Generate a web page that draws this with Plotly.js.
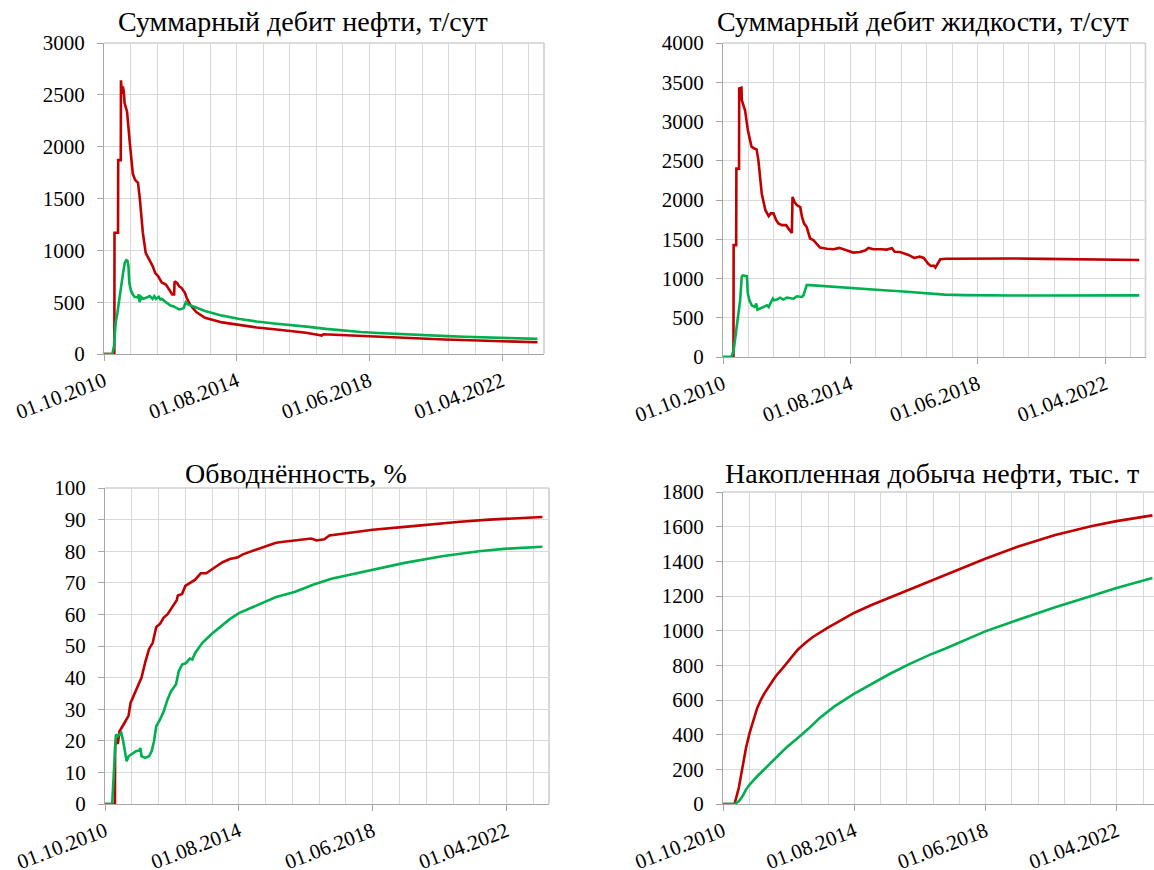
<!DOCTYPE html>
<html>
<head>
<meta charset="utf-8">
<script src="https://cdn.plot.ly/plotly-3.0.1.min.js"></script>
</head>
<body style="margin:0">
<div id="chart" style="width:1154px;height:870px"></div>
<script>
// ---- tick labels / titles ----
const tickDates = ['2010-10-01','2014-08-01','2018-06-01','2022-04-01'];
const tickLabels = ['01.10.2010','01.08.2014','01.06.2018','01.04.2022'];
const chartTitles = ['Суммарный дебит нефти, т/сут','Суммарный дебит жидкости, т/сут','Обводнённость, %','Накопленная добыча нефти, тыс. т'];

// ---- Chart 1: oil rate ----
const oilRedDates = ['2010-10-01','2011-01-18','2011-01-20','2011-02-26','2011-02-28','2011-03-27','2011-03-29','2011-04-08','2011-04-18','2011-04-28','2011-05-06','2011-06-01','2011-07-01','2011-08-01','2011-08-25','2011-09-25','2011-10-15','2011-11-15','2011-12-15','2012-01-20','2012-02-25','2012-03-25','2012-04-25','2012-06-01','2012-07-15','2012-08-20','2012-09-20','2012-10-10','2012-10-15','2012-11-10','2012-12-05','2012-12-25','2013-01-15','2013-02-01','2013-02-20','2013-03-10','2013-04-01','2013-06-01','2013-09-01','2014-03-01','2014-09-01','2015-03-01','2015-09-01','2016-03-01','2016-08-01','2016-12-01','2017-01-15','2017-02-01','2017-08-01','2018-02-01','2018-08-01','2019-02-01','2019-08-01','2020-02-01','2020-08-01','2021-02-01','2021-08-01','2022-02-01','2022-08-01','2023-02-01','2023-04-10'];
const oilRedValues = [0,0,1170,1170,1870,1870,2640,2510,2580,2530,2420,2340,2030,1740,1680,1650,1490,1170,975,910,850,780,750,690,670,620,575,575,700,685,650,640,605,590,540,500,470,405,350,305,278,256,238,222,205,185,178,190,182,174,166,159,152,146,140,135,130,125,120,115,113];
const oilGreenDates = ['2010-10-01','2010-12-28','2011-01-15','2011-02-01','2011-02-20','2011-03-10','2011-04-01','2011-04-20','2011-05-08','2011-05-25','2011-06-08','2011-06-16','2011-06-25','2011-07-10','2011-08-01','2011-08-20','2011-09-10','2011-09-25','2011-10-03','2011-10-12','2011-10-28','2011-11-18','2011-12-20','2012-01-28','2012-02-25','2012-03-15','2012-04-01','2012-05-01','2012-05-18','2012-06-01','2012-07-01','2012-08-01','2012-09-01','2012-10-01','2012-11-01','2012-12-01','2013-01-01','2013-01-20','2013-02-10','2013-03-01','2013-09-01','2014-03-01','2014-09-01','2015-03-01','2015-09-01','2016-03-01','2016-09-01','2017-03-01','2017-09-01','2018-03-01','2018-09-01','2019-03-01','2019-09-01','2020-03-01','2020-09-01','2021-03-01','2021-09-01','2022-03-01','2022-09-01','2023-04-10'];
const oilGreenValues = [0,0,80,300,400,525,655,780,880,905,895,845,690,620,575,550,550,542,575,500,550,532,542,558,532,558,532,551,526,532,510,487,468,462,446,430,436,446,500,480,415,370,338,313,295,280,262,242,226,212,202,193,185,178,172,166,160,155,151,146];

// ---- Chart 2: liquid rate ----
const liqRedDates = ['2010-10-01','2011-01-24','2011-01-26','2011-02-23','2011-02-25','2011-03-26','2011-03-28','2011-04-22','2011-04-26','2011-05-10','2011-06-01','2011-07-01','2011-08-10','2011-09-10','2011-10-05','2011-10-25','2011-12-01','2012-01-10','2012-02-15','2012-03-10','2012-04-08','2012-05-05','2012-06-01','2012-07-10','2012-08-25','2012-09-20','2012-10-27','2012-11-03','2012-11-25','2012-12-20','2013-01-27','2013-02-15','2013-03-10','2013-04-08','2013-05-15','2013-06-20','2013-07-27','2013-09-01','2013-11-15','2014-01-27','2014-04-01','2014-06-20','2014-09-01','2014-11-15','2015-01-15','2015-02-15','2015-04-10','2015-07-01','2015-09-01','2015-11-01','2015-12-01','2016-01-27','2016-03-15','2016-05-01','2016-07-01','2016-09-01','2016-10-15','2016-12-01','2017-01-01','2017-02-01','2017-02-20','2017-03-15','2017-04-15','2017-06-15','2018-06-01','2019-06-01','2020-06-01','2021-06-01','2022-06-01','2023-04-10'];
const liqRedValues = [0,0,1425,1425,2400,2400,3420,3430,3270,3210,3140,2890,2680,2655,2645,2505,2080,1870,1795,1830,1830,1750,1700,1680,1680,1635,1580,2040,1975,1935,1910,1785,1700,1655,1510,1490,1435,1395,1380,1372,1390,1360,1330,1338,1360,1390,1372,1372,1368,1385,1340,1338,1320,1300,1262,1278,1262,1190,1160,1165,1140,1190,1245,1252,1258,1255,1250,1245,1240,1235];
const liqGreenDates = ['2010-10-01','2011-01-01','2011-01-26','2011-03-01','2011-04-07','2011-04-25','2011-05-05','2011-06-20','2011-07-01','2011-07-18','2011-08-13','2011-09-12','2011-10-01','2011-10-15','2011-11-15','2011-12-20','2012-01-28','2012-02-15','2012-03-03','2012-04-01','2012-04-15','2012-05-15','2012-06-20','2012-07-25','2012-09-03','2012-10-10','2012-11-15','2012-12-20','2013-02-15','2013-03-03','2013-03-20','2013-04-08','2013-05-15','2014-01-27','2014-08-01','2015-01-27','2015-08-01','2016-01-27','2016-06-01','2016-11-01','2017-06-01','2018-01-01','2018-06-01','2019-06-01','2020-06-01','2021-06-01','2022-06-01','2023-04-10'];
const liqGreenValues = [0,0,85,380,720,1020,1040,1030,810,722,658,637,680,603,616,637,658,637,680,743,722,731,756,731,756,752,743,773,765,786,850,915,915,892,878,862,850,838,828,810,795,788,785,784,784,784,785,785];

// ---- Chart 3: water cut ----
const wcRedDates = ['2010-10-01','2011-01-13','2011-01-15','2011-02-01','2011-02-12','2011-03-01','2011-04-10','2011-05-15','2011-06-05','2011-06-25','2011-08-20','2011-10-18','2011-11-27','2012-01-04','2012-02-12','2012-03-20','2012-04-28','2012-06-06','2012-07-15','2012-09-12','2012-10-20','2012-11-01','2012-12-15','2013-01-18','2013-03-05','2013-05-01','2013-06-28','2013-08-25','2013-11-28','2014-02-12','2014-04-28','2014-07-15','2014-09-12','2014-12-18','2015-03-05','2015-06-10','2015-08-25','2015-11-12','2016-03-05','2016-05-20','2016-08-28','2016-10-22','2017-01-10','2017-03-05','2017-07-20','2018-01-10','2018-06-01','2019-05-01','2020-02-01','2020-12-01','2021-10-01','2022-04-01','2023-04-10'];
const wcRedValues = [0,0,18.2,22,19,23,25,27,28,32,36,40,45,49,51,56,57,59,60,63,64.5,66,66.5,69,70,71,73,73,75,76.5,77.5,78,79,80,81,82,82.7,83,83.3,83.5,84,83.4,83.8,85,85.5,86.3,86.8,87.7,88.5,89.3,90,90.3,90.8];
const wcGreenDates = ['2010-10-01','2010-12-15','2011-01-23','2011-02-10','2011-03-01','2011-03-20','2011-04-10','2011-05-15','2011-06-05','2011-07-12','2011-08-20','2011-09-22','2011-10-07','2011-10-18','2011-11-27','2012-01-04','2012-02-01','2012-02-25','2012-03-20','2012-04-28','2012-06-06','2012-07-15','2012-08-22','2012-10-12','2012-11-10','2012-12-15','2013-01-25','2013-03-05','2013-04-01','2013-05-01','2013-07-15','2013-10-20','2014-01-25','2014-04-28','2014-08-01','2015-02-15','2015-08-25','2016-03-05','2016-09-15','2017-03-25','2017-10-05','2018-06-01','2019-05-01','2020-05-25','2021-06-15','2022-04-01','2023-04-10'];
const wcGreenValues = [0,0,22,21.4,22,22.5,19.8,13.5,15.1,15.8,16.7,16.9,17.7,15.1,14.6,15.1,16.7,19.8,24.6,26.7,29.3,33,35.7,37.8,42,44.1,44.6,46,45.7,47.8,51,53.8,56.2,58.5,60.4,63.1,65.5,67.1,69.4,71.3,72.6,74.2,76.3,78.4,80,80.8,81.4];

// ---- Chart 4: cumulative oil ----
const cumRedDates = ['2010-10-01','2011-02-01','2011-03-18','2011-04-27','2011-06-03','2011-07-12','2011-08-21','2011-10-01','2011-11-10','2011-12-18','2012-02-15','2012-04-15','2012-07-01','2012-09-18','2012-12-06','2013-02-24','2013-05-12','2013-10-15','2014-03-20','2014-07-28','2015-02-01','2015-08-12','2016-02-27','2016-10-18','2017-05-01','2017-10-06','2018-05-28','2019-05-15','2020-06-12','2021-07-10','2022-03-28','2023-04-15'];
const cumRedValues = [0,0,92,208,323,410,487,554,602,640,688,737,785,837,890,929,962,1015,1062,1102,1148,1190,1232,1282,1328,1362,1415,1485,1552,1604,1632,1665];
const cumGreenDates = ['2010-10-01','2011-02-05','2011-03-18','2011-04-27','2011-06-03','2011-07-12','2011-10-01','2011-12-18','2012-04-15','2012-08-10','2012-12-06','2013-04-01','2013-07-28','2014-01-01','2014-07-28','2015-02-01','2015-08-12','2016-02-27','2016-10-18','2017-03-25','2017-10-06','2018-05-28','2019-05-15','2020-06-12','2021-07-10','2022-03-28','2023-04-15'];
const cumGreenValues = [0,0,15,44,83,112,160,202,265,327,381,435,496,563,635,692,750,804,862,896,940,996,1063,1135,1202,1246,1304];

// ---- styling ----
const FONT = 'Liberation Serif';
const GRID = '#d9d9d9';
const AXIS = '#a6a6a6';
const BORDER = '#cfcfcf';
const RED = '#c00000';
const GREEN = '#00b050';
const W = 1154, H = 870;

function line(x, y, color, xa, ya) {
  return {x: x, y: y, type: 'scatter', mode: 'lines', xaxis: xa, yaxis: ya,
    line: {color: color, width: 2.6}, hoverinfo: 'skip', showlegend: false};
}
const traces = [
  line(oilRedDates, oilRedValues, RED, 'x', 'y'),
  line(oilGreenDates, oilGreenValues, GREEN, 'x', 'y'),
  line(liqRedDates, liqRedValues, RED, 'x2', 'y2'),
  line(liqGreenDates, liqGreenValues, GREEN, 'x2', 'y2'),
  line(wcRedDates, wcRedValues, RED, 'x3', 'y3'),
  line(wcGreenDates, wcGreenValues, GREEN, 'x3', 'y3'),
  line(cumRedDates, cumRedValues, RED, 'x4', 'y4'),
  line(cumGreenDates, cumGreenValues, GREEN, 'x4', 'y4')
];

function xAxis(px0, px1, anchor, rangeEnd) {
  return {
    type: 'date', domain: [px0 / W, px1 / W], anchor: anchor,
    range: [tickDates[0], rangeEnd],
    tickmode: 'array', tickvals: tickDates, ticktext: tickLabels,
    tickangle: -21, ticks: 'outside', ticklen: 6, tickcolor: AXIS, tickwidth: 1,
    showline: true, linecolor: AXIS, linewidth: 1.2,
    showgrid: true, gridcolor: GRID, gridwidth: 1,
    minor: {tickmode: 'linear', tick0: tickDates[0], dtick: 280 * 86400000, showgrid: true, gridcolor: GRID, gridwidth: 1, ticks: ''},
    zeroline: false, fixedrange: true, ticklabelstandoff: 0,
    tickfont: {family: FONT, size: 21, color: '#000'}
  };
}
function yAxis(py0, py1, anchor, max, dtick) {
  return {
    domain: [1 - py1 / H, 1 - py0 / H], anchor: anchor,
    range: [0, max], tickmode: 'linear', tick0: 0, dtick: dtick,
    ticks: 'outside', ticklen: 6, tickcolor: AXIS, tickwidth: 1,
    showline: true, linecolor: AXIS, linewidth: 1.2,
    showgrid: true, gridcolor: GRID, gridwidth: 1,
    zeroline: false, fixedrange: true, ticklabelstandoff: 8,
    tickfont: {family: FONT, size: 21, color: '#000'}
  };
}
function border(xa, ya, withRight) {
  const s = [{type: 'line', xref: xa + ' domain', yref: ya + ' domain', x0: 0, x1: 1, y0: 1, y1: 1, line: {color: BORDER, width: 1.6}, layer: 'below'}];
  if (withRight) s.push({type: 'line', xref: xa + ' domain', yref: ya + ' domain', x0: 1, x1: 1, y0: 0, y1: 1, line: {color: BORDER, width: 1.6}, layer: 'below'});
  return s;
}
function title(text, cx, cy) {
  return {text: text, xref: 'paper', yref: 'paper', x: cx / W, y: 1 - cy / H,
    xanchor: 'center', yanchor: 'middle', showarrow: false,
    font: {family: FONT, size: 28, color: '#000'}};
}

const layout = {
  width: W, height: H, margin: {l: 0, r: 0, t: 0, b: 0},
  paper_bgcolor: '#fff', plot_bgcolor: '#fff', showlegend: false,
  xaxis: xAxis(104, 544, 'y', '2023-06-18'),
  yaxis: yAxis(43, 354, 'x', 3000, 500),
  xaxis2: xAxis(723, 1145.5, 'y2', '2023-06-18'),
  yaxis2: yAxis(43, 357, 'x2', 4000, 500),
  xaxis3: xAxis(105, 549, 'y3', '2023-06-18'),
  yaxis3: yAxis(488, 804, 'x3', 100, 10),
  xaxis4: xAxis(723, 1154, 'y4', '2023-05-02'),
  yaxis4: yAxis(492, 804, 'x4', 1800, 200),
  shapes: [].concat(border('x', 'y', true), border('x2', 'y2', true), border('x3', 'y3', true), border('x4', 'y4', false)),
  annotations: [
    title(chartTitles[0], 303, 21),
    title(chartTitles[1], 923, 21),
    title(chartTitles[2], 296, 473),
    title(chartTitles[3], 932, 473)
  ]
};
Plotly.newPlot('chart', traces, layout, {displayModeBar: false});
</script>
</body>
</html>
